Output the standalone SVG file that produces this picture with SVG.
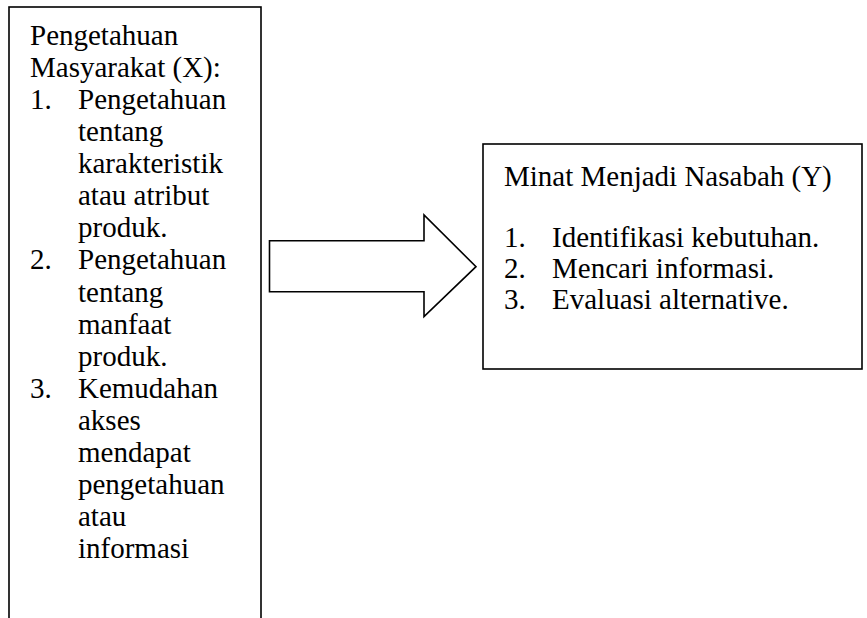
<svg xmlns="http://www.w3.org/2000/svg" width="867" height="618" viewBox="0 0 867 618">
<style>
.box{fill:#fff;stroke:#000;stroke-width:1.6}
.t{font-family:"Liberation Serif","Times New Roman",serif;font-size:29px;fill:#000}
</style>
<rect x="0" y="0" width="867" height="618" fill="#fff"/>
<g id="node-x">
<rect class="box" x="9" y="7" width="252" height="640"/>
<text class="t" x="30" y="45">Pengetahuan</text>
<text class="t" x="30" y="77">Masyarakat (X):</text>
<text class="t" x="30" y="109">1.</text>
<text class="t" x="78" y="109">Pengetahuan</text>
<text class="t" x="78" y="141">tentang</text>
<text class="t" x="78" y="173">karakteristik</text>
<text class="t" x="78" y="205">atau atribut</text>
<text class="t" x="78" y="237">produk.</text>
<text class="t" x="30" y="269">2.</text>
<text class="t" x="78" y="269">Pengetahuan</text>
<text class="t" x="78" y="302">tentang</text>
<text class="t" x="78" y="334">manfaat</text>
<text class="t" x="78" y="366">produk.</text>
<text class="t" x="30" y="398">3.</text>
<text class="t" x="78" y="398">Kemudahan</text>
<text class="t" x="78" y="430">akses</text>
<text class="t" x="78" y="462">mendapat</text>
<text class="t" x="78" y="494">pengetahuan</text>
<text class="t" x="78" y="526">atau</text>
<text class="t" x="78" y="558">informasi</text>
</g>
<g id="connectors">
<polygon class="box" points="269.5,240.7 424,240.7 424,215 476,266.7 424,316.7 424,291.7 269.5,291.7"/>
</g>
<g id="node-y">
<rect class="box" x="483" y="144" width="379" height="225"/>
<text class="t" x="504" y="186">Minat Menjadi Nasabah (Y)</text>
<text class="t" x="504" y="247">1.</text>
<text class="t" x="552" y="247">Identifikasi kebutuhan.</text>
<text class="t" x="504" y="278">2.</text>
<text class="t" x="552" y="278">Mencari informasi.</text>
<text class="t" x="504" y="309">3.</text>
<text class="t" x="552" y="309">Evaluasi alternative.</text>
</g>
</svg>
